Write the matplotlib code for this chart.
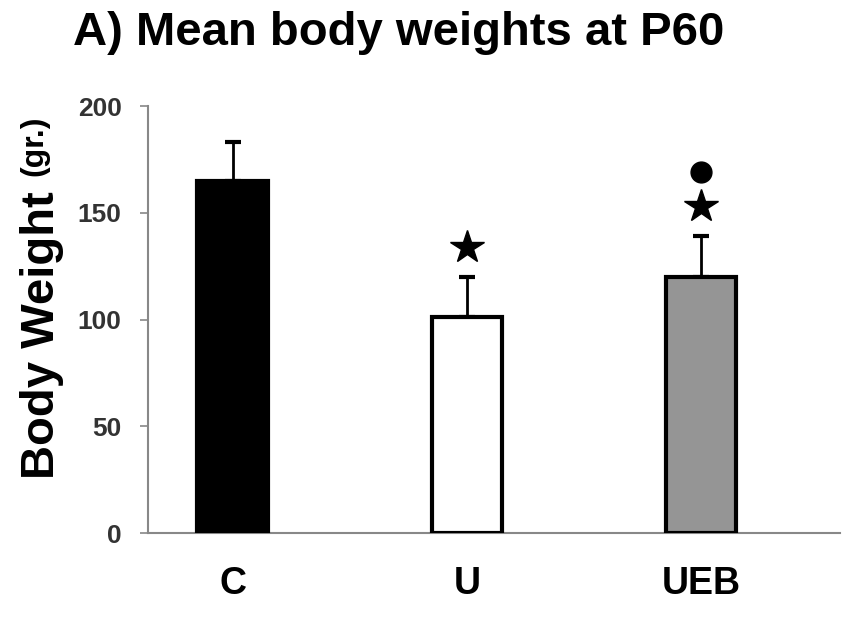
import numpy as np
import matplotlib
matplotlib.use("Agg")
from matplotlib import pyplot as plt

plt.rcParams['font.family'] = ['Liberation Sans', 'DejaVu Sans']

groups = ["C", "U", "UEB"]
mean_weight = [165, 101, 120]
sem_weight = [18, 19, 19]
bar_colors = ["black", "white", "#959595"]

# groups different from C (star) and from U (dot)
star_groups = ["U", "UEB"]
dot_groups = ["UEB"]

yticks = [0, 50, 100, 150, 200]

fig = plt.figure(figsize=(8.46, 6.21), dpi=100)
ax = fig.add_axes([0.1749, 0.1417, 0.818, 0.6876])

x = np.arange(len(groups))
ax.bar(x, mean_weight, width=0.30, color=bar_colors, edgecolor="black",
       linewidth=3, zorder=3)
ax.errorbar(x, mean_weight, yerr=[np.zeros(len(x)), sem_weight], fmt='none',
            ecolor="black", elinewidth=2, capsize=5.5, capthick=3, zorder=2)

tops = {g: m + s for g, m, s in zip(groups, mean_weight, sem_weight)}
for g in star_groups:
    ax.plot(groups.index(g), tops[g] + 14, marker='*', markersize=25,
            color="black", clip_on=False)
for g in dot_groups:
    ax.plot(groups.index(g), tops[g] + 30, marker='o', markersize=15,
            color="black", clip_on=False)

ax.set_xlim(-0.361, 2.593)
ax.set_ylim(0, 200)
ax.set_xticks(x)
ax.set_xticklabels(groups, fontsize=27, fontweight='bold')
ax.tick_params(axis='x', length=0, pad=24)
ax.set_yticks(yticks)
ax.set_yticklabels([str(t) for t in yticks], fontsize=19, fontweight='bold',
                   color="#333333")
ax.tick_params(axis='y', length=6, width=1.2, color="#888888", pad=13)

for side in ["top", "right"]:
    ax.spines[side].set_visible(False)
for side in ["left", "bottom"]:
    ax.spines[side].set_color("#888888")
    ax.spines[side].set_linewidth(1.5)

fig.text(73 / 846, 1 - 45 / 621, "A) Mean body weights at P60", fontsize=34,
         fontweight='bold', ha='left', va='baseline')

# y label: main text plus smaller unit
fig.text(54 / 846, 1 - 335 / 621, "Body Weight", fontsize=34, fontweight='bold',
         rotation=90, rotation_mode='anchor', ha='center', va='baseline')
fig.text(42 / 846, 1 - 146 / 621, "(gr.)", fontsize=23, fontweight='bold',
         rotation=90, rotation_mode='anchor', ha='center', va='baseline')

plt.savefig("out.png", dpi=100)
